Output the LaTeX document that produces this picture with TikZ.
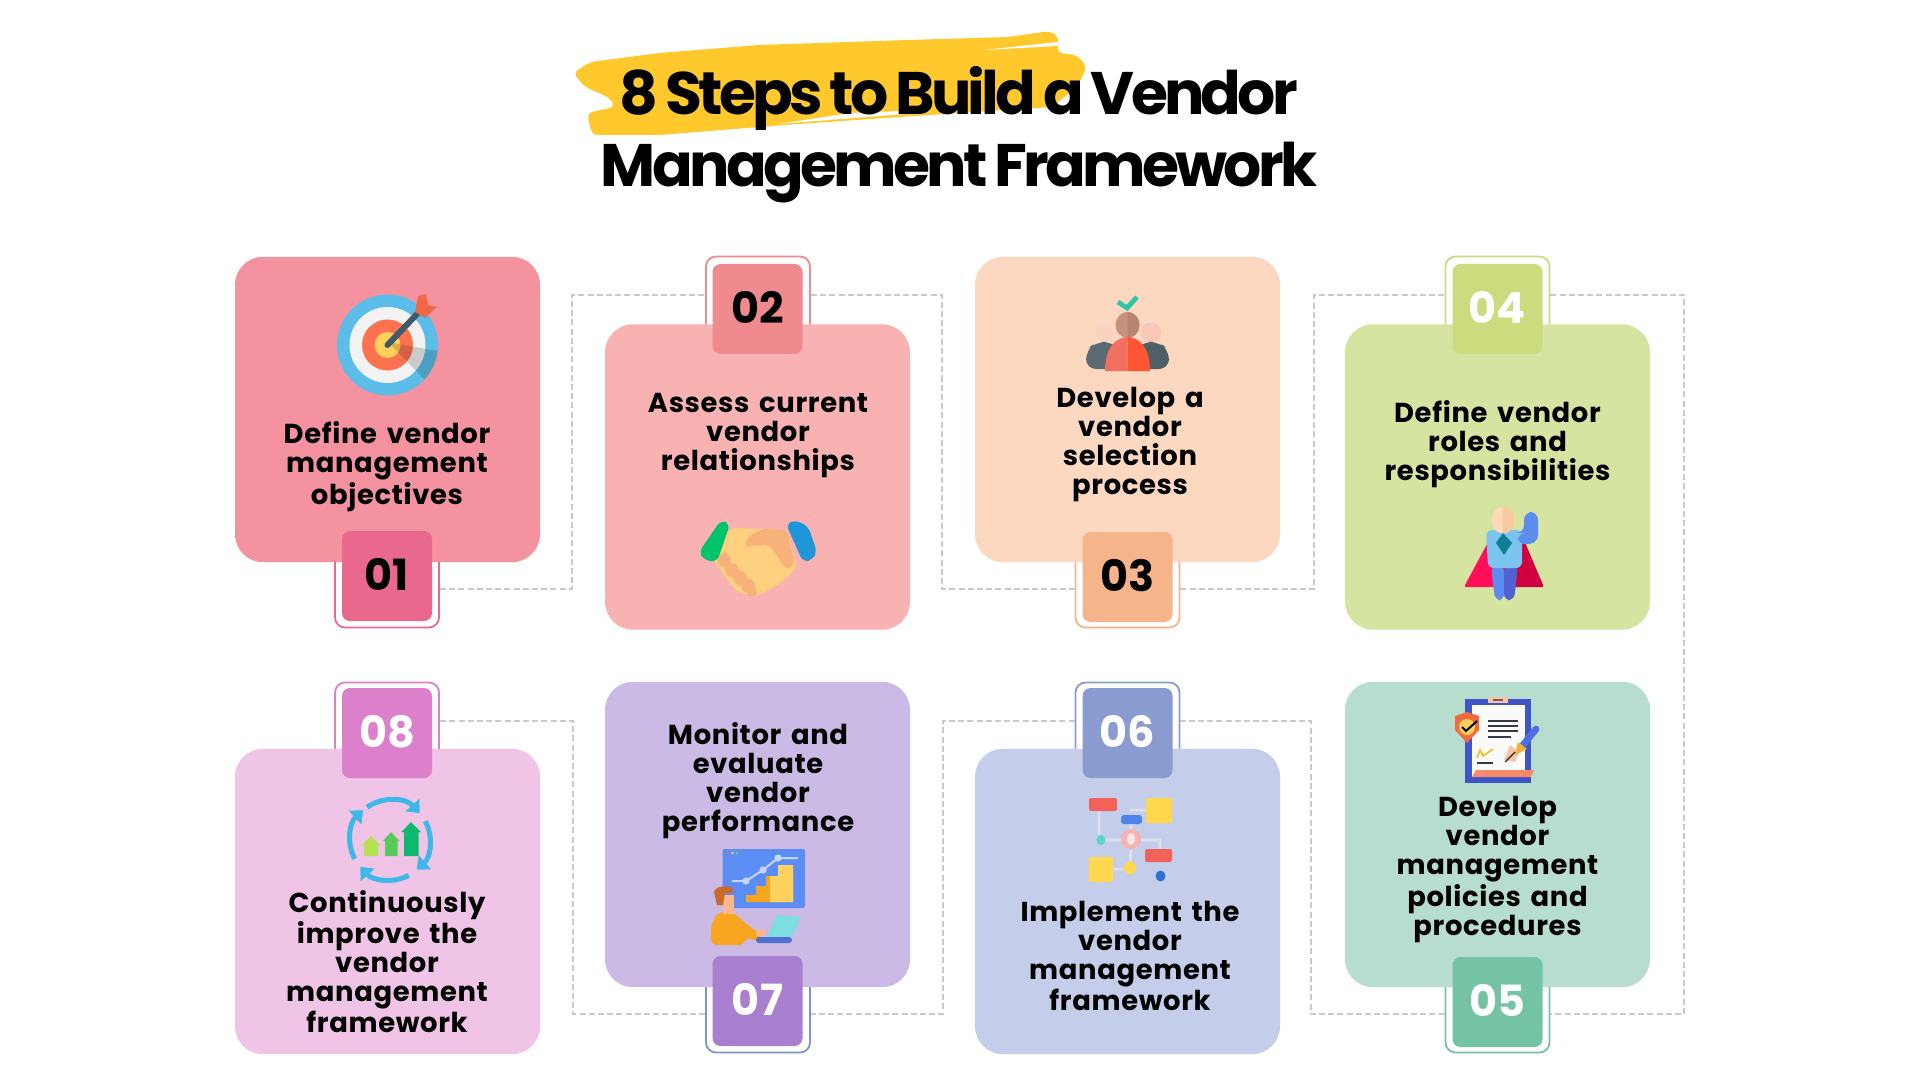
\documentclass[tikz,border=0pt]{standalone}
\usepackage{fontspec}
\setmainfont{Poppins}
\newfontfamily\titlefont{Poppins}[LetterSpace=-6.2,WordSpace=0.75]
\newfontfamily\stepfont{Poppins}[LetterSpace=2.4,WordSpace=1.5]
\usetikzlibrary{calc,arrows.meta}
\definecolor{cardA}{HTML}{F4939F}\definecolor{badgeA}{HTML}{E8688E}
\definecolor{cardB}{HTML}{F8B2B2}\definecolor{badgeB}{HTML}{EF8A8E}
\definecolor{cardC}{HTML}{FDD8C0}\definecolor{badgeC}{HTML}{F6B48A}
\definecolor{cardD}{HTML}{D6E4A2}\definecolor{badgeD}{HTML}{CBDC7E}
\definecolor{cardE}{HTML}{B6DDCE}\definecolor{badgeE}{HTML}{74C3A5}
\definecolor{cardF}{HTML}{C4CDE9}\definecolor{badgeF}{HTML}{8A9CCF}
\definecolor{cardG}{HTML}{CABAE5}\definecolor{badgeG}{HTML}{A97FCF}
\definecolor{cardH}{HTML}{F0C4E6}\definecolor{badgeH}{HTML}{DC80CB}
\definecolor{frameG}{HTML}{7F95CB}
\definecolor{brush}{HTML}{FFC82C}
\definecolor{dashgrey}{HTML}{C9C9C9}
\tikzset{
  hex/.code={\definecolor{tmphex}{HTML}{#1}\pgfkeysalso{/tikz/color=tmphex}},
  card/.style={fill=#1,draw=none,rounded corners=14pt,minimum width=152.5pt,minimum height=152.7pt,inner sep=0pt},
  frame/.style={fill=white,draw=#1,line width=0.9pt,rounded corners=5pt,minimum width=52pt,minimum height=38.5pt,inner sep=0pt},
  badge/.style={fill=#1,rounded corners=4pt,minimum width=45pt,minimum height=45pt,inner sep=0pt,text depth=1.2pt,font=\bfseries\fontsize{21.5}{24}\selectfont},
  steptext/.style={align=center,inner sep=0pt,text=black,font=\stepfont\bfseries\fontsize{13.7}{14.5}\selectfont},
  link/.style={draw=dashgrey,line width=0.8pt,dash pattern=on 3pt off 1.6pt},
  titletext/.style={inner sep=0pt,text=black,align=center,font=\titlefont\bfseries\fontsize{30}{36}\selectfont},
  cyc/.style={hex=3DB8E8,line width=2.5pt,-{Triangle[width=9pt,length=5.5pt]}}
}
\begin{document}
\begin{tikzpicture}[x=0.5pt,y=-0.5pt]
\useasboundingbox (0,0) rectangle (1920,1080);
\fill[white] (0,0) rectangle (1920,1080);
% brush
\fill[brush,rounded corners=3pt] (573,73)--(590,62)--(660,53)--(759,45)--(908,40)--(1008,37)--(1050,31)--(1059,37)--(1057,53)--(1077,55)--(1087,67)--(1077,87)--(1052,107)--(958,113)--(784,125)--(660,135)--(592,135)--(587,113)--(615,107)--(610,98)--(585,87)--cycle;
\fill[white] (983,50)--(1058,42)--(1058,46)--cycle;
\fill[white] (778,124)--(918,113)--(900,111)--(850,113)--cycle;
\node[titletext] (title) at (959,134.5) {8 Steps to Build a Vendor\\Management Framework};
% frames
\node[frame=badgeA] (f1) at (387,589) {};
\node[frame=badgeB] (f2) at (758,295) {};
\node[frame=badgeC] (f3) at (1127.5,589) {};
\node[frame=badgeD] (f4) at (1497.5,295) {};
\node[frame=badgeE] (f5) at (1497.5,1014) {};
\node[frame=badgeF] (f6) at (1127.5,721) {};
\node[frame=frameG] (f7) at (758,1014) {};
\node[frame=badgeH] (f8) at (387,721) {};
% connector corners
\coordinate (b1) at (572,295);
\coordinate (b2) at (942,589);
\coordinate (b3) at (1314,295);
\coordinate (b4) at (1684,1014);
\coordinate (b5) at (1311,721);
\coordinate (b6) at (943,1014);
\coordinate (b7) at (573,721);
\draw[link] (f1.east) -| (b1) -- (f2.west);
\draw[link] (f2.east) -| (b2) -- (f3.west);
\draw[link] (f3.east) -| (b3) -- (f4.west);
\draw[link] (f4.east) -| (b4) -- (f5.east);
\draw[link] (f5.west) -| (b5) -- (f6.east);
\draw[link] (f6.west) -| (b6) -- (f7.east);
\draw[link] (f7.west) -| (b7) -- (f8.east);
% cards
\node[card=cardA] (c1) at (387.5,409.5) {};
\node[card=cardB] (c2) at (757.5,477) {};
\node[card=cardC] (c3) at (1127.5,409.5) {};
\node[card=cardD] (c4) at (1497.5,477) {};
\node[card=cardE] (c5) at (1497.5,834.5) {};
\node[card=cardF] (c6) at (1127.5,901.5) {};
\node[card=cardG] (c7) at (757.5,834.5) {};
\node[card=cardH] (c8) at (387.5,901.5) {};
% badges
\node[badge=badgeA,text=black] (n1) at (387,576) {01};
\node[badge=badgeB,text=black] (n2) at (757.5,309) {02};
\node[badge=badgeC,text=black] (n3) at (1127.5,577) {03};
\node[badge=badgeD,text=white] (n4) at (1497.5,309) {04};
\node[badge=badgeE,text=white] (n5) at (1497.5,1002) {05};
\node[badge=badgeF,text=white] (n6) at (1127.5,733) {06};
\node[badge=badgeG,text=white] (n7) at (757.5,1001) {07};
\node[badge=badgeH,text=white] (n8) at (387,733) {08};
% texts
\node[steptext] (t1) at (387,466.5) {Define vendor\\management\\objectives};
\node[steptext] (t2) at (758,436) {Assess current\\vendor\\relationships};
\node[steptext] (t3) at (1130,445) {Develop a\\vendor\\selection\\process};
\node[steptext] (t4) at (1497.5,444) {Define vendor\\roles and\\responsibilities};
\node[steptext] (t5) at (1497.5,869.5) {Develop\\vendor\\management\\policies and\\procedures};
\node[steptext] (t6) at (1130,956) {Implement the\\vendor\\management\\framework};
\node[steptext] (t7) at (758,781) {Monitor and\\evaluate\\vendor\\performance};
\node[steptext] (t8) at (387,961.5) {Continuously\\improve the\\vendor\\management\\framework};
% icon 1: target
\fill[hex=5BBDE8] (387.5,345) circle (50.5);
\fill[white!95!black] (387.5,345) circle (38);
\fill[hex=FF7250] (387.5,345) circle (25.5);
\fill[hex=FFD05B] (387.5,345) circle (13);
\begin{scope}
\clip (387.5,345) circle (50.5);
\fill[black,opacity=.16] (388,342)--(442,352)--(430,385)--cycle;
\end{scope}
\draw[hex=3F5A6B,line width=3pt,line cap=round] (387.5,345)--(420,311);
\fill[hex=F0684A] (415,312)--(418,296)--(426,294)--(428,305)--(437,307)--(425,318)--cycle;
% icon 2: handshake
\fill[hex=FFD07F,rounded corners=3pt] (730,528)--(787,530)--(797,568)--(778,585)--(755,597)--(735,590)--(713,560)--cycle;
\fill[hex=F7B27A,rounded corners=3pt] (744,548)--(748,536)--(765,528)--(787,530)--(795,565)--(786,570)--(770,545)--(755,545)--cycle;
\fill[hex=F7B27A] (724,560) circle (7) (732,570) circle (7) (740,578) circle (7) (748,586) circle (7) (752,592) circle (5);
\fill[hex=00C46A,rounded corners=3pt] (721,520)--(730,524)--(717,562)--(704,560)--(699,552)--cycle;
\fill[hex=1E96D8,rounded corners=3pt] (795,520)--(786,524)--(803,562)--(812,560)--(817,552)--(808,526)--cycle;
% icon 3: people
\draw[hex=2EC4A5,line width=2.4pt] (1118,302)--(1127,308)--(1137,297);
\fill[hex=F9C8B8] (1151,333) circle (10.5);
\fill[hex=FAD2C0] (1104,333) circle (9);
\fill[hex=5A6A70,rounded corners=5pt] (1086,369)--(1086,350)--(1096,342)--(1112,342)--(1122,350)--(1122,369)--cycle;
\fill[hex=4F5F66,rounded corners=5pt] (1133,369)--(1133,350)--(1143,342)--(1159,342)--(1169,350)--(1169,369)--cycle;
\fill[hex=C9927E] (1127.5,325) ellipse (12 and 13);
\fill[hex=B98572] (1127.5,312) arc[start angle=-90,end angle=90,x radius=12,y radius=13]--cycle;
\fill[hex=F2705F] (1127.5,337) .. controls (1112,338) and (1105,352) .. (1105,371) -- (1127.7,371) -- cycle;
\fill[hex=FF5533] (1127.5,337) .. controls (1143,338) and (1150,352) .. (1150,371) -- (1127.5,371) -- cycle;
% icon 4: hero
\fill[hex=FF0F5B] (1493,533)--(1465,585)--(1465,587)--(1505,587)--(1505,533)--cycle;
\fill[hex=D0003F] (1505,533)--(1521,533)--(1543,585)--(1543,587)--(1505,587)--cycle;
\fill[hex=5B8DEF,rounded corners=3pt] (1491,566)--(1504,566)--(1504,600)--(1495,600)--cycle;
\fill[hex=4F62D0,rounded corners=3pt] (1504,566)--(1518,566)--(1514,600)--(1504,600)--cycle;
\fill[hex=7CC4F0,rounded corners=3pt] (1486,530)--(1522,530)--(1522,568)--(1488,568)--cycle;
\fill[hex=5B8DEF,rounded corners=4pt] (1518,533)--(1524,533)--(1524,512)--(1538,512)--(1538,543)--(1518,545)--cycle;
\fill[hex=FDD9B5] (1503,520) ellipse (11.5 and 13.5);
\fill[hex=F7C9A0] (1503,506.5) arc[start angle=-90,end angle=90,x radius=11.5,y radius=13.5]--cycle;
\fill[hex=0F7F95] (1503,533)--(1496,543)--(1504,555)--(1512,543)--cycle;
% icon 5: clipboard
\fill[hex=3F55C7] (1465,699) rectangle (1531,783);
\fill[white!98!black] (1472,705) rectangle (1525,777);
\fill[hex=F9C5A8] (1488,697) rectangle (1508,703);
\draw[hex=7A5A60,line width=.7pt] (1493,700)--(1503,700);
\fill[hex=F06A3A] (1455,716)--(1467,712)--(1479,716)--(1479,730)--(1467,743)--(1455,730)--cycle;
\fill[hex=FFD05B] (1467,727) circle (8);
\draw[black,line width=1pt] (1462,727)--(1466,731)--(1477,721);
\draw[hex=333A45,line width=1pt] (1488,721)--(1518,721) (1488,726)--(1518,726) (1488,731)--(1518,731) (1488,737)--(1511,737) (1477,763)--(1493,763);
\draw[hex=F2C230,line width=.9pt] (1477,758)--(1480,750)--(1483,756)--(1493,749);
\fill[hex=F88A6A] (1472,777)--(1476,770)--(1534,770)--(1531,777)--cycle;
\fill[hex=F9C5A8] (1504,760)--(1510,745)--(1519,752)--(1515,762)--cycle;
\draw[hex=4D6FE0,line width=3.4pt,line cap=round] (1536,729)--(1523,745);
\fill[hex=F2B233] (1518,742)--(1527,749)--(1515,755)--cycle;
\draw[hex=333A45,line width=.7pt] (1515,752)--(1505,762);
% icon 6: flow chart
\draw[hex=DDE0EE,line width=1.4pt] (1099,811)--(1099,835) (1106,840)--(1121,840) (1141,840)--(1160,840)--(1160,849) (1131,824)--(1131,830) (1131,850)--(1130,862) (1113,869)--(1124,869) (1130,810)--(1146,810);
\fill[hex=F2625A,rounded corners=1pt] (1089,798) rectangle (1117,811);
\fill[hex=FFD84D,rounded corners=1pt] (1146,798) rectangle (1172,823);
\fill[hex=4D85E8,rounded corners=1.5pt] (1121,815) rectangle (1142,824);
\fill[hex=5CD5CF] (1101,840) ellipse (4.5 and 5);
\fill[hex=F9B2B2] (1131,839) ellipse (10 and 10);
\fill[hex=FFE7E7] (1131,839) ellipse (4 and 6);
\fill[hex=F2625A,rounded corners=1pt] (1145,849) rectangle (1172,862);
\fill[hex=FFD84D,rounded corners=1pt] (1089,857) rectangle (1113,882);
\fill[hex=FFD84D] (1130,868) ellipse (6 and 6.5);
\fill[hex=2F6FD0] (1160.5,876) ellipse (5 and 5.5);
% icon 7: monitoring
\fill[hex=5B8DF5,rounded corners=1pt] (722.6,849) rectangle (805,908);
\fill[hex=FF6B5B] (728,853) circle (1.3);
\fill[hex=FFD05B] (732.5,853) circle (1.3);
\fill[hex=6FD08C] (737,853) circle (1.3);
\fill[hex=F8A521] (746,902)--(746,895)--(756,895)--(756,886)--(766,886)--(766,876)--(778,876)--(778,865)--(793,865)--(793,902)--cycle;
\fill[hex=FFD25E] (770,902)--(770,876)--(778,876)--(778,865)--(793,865)--(793,902)--cycle;
\draw[hex=C5D6FA,line width=1pt] (732,881)--(746,881)--(763,870)--(778,858)--(798,858);
\fill[hex=C5D6FA] (746,881) circle (3.6) (763,870) circle (3.6) (778,858) circle (3.6);
\fill[hex=F8A521,rounded corners=3pt] (711,945)--(711,925)--(718,912)--(733,912)--(750,927)--(764,936)--(761,942)--(745,937)--(745,945)--cycle;
\fill[hex=FBB890] (723,895) rectangle (734,914);
\fill[hex=C76A2A] (714,892) .. controls (716,885) and (730,885) .. (733,889) -- (733,893) -- (725,893) -- (723,905) -- (717,905) -- cycle;
\fill[hex=7DDDE0] (777,915)--(801,917)--(792,937)--(767,937)--cycle;
\fill[hex=4F6FD0,rounded corners=1.5pt] (756,937) rectangle (792,943);
\fill[hex=FBB890] (761,933) ellipse (5 and 4);
% icon 8: cycle with bars
\fill[hex=B5E24F] (364,856)--(364,845)--(362,845)--(371,836)--(380,845)--(378,845)--(378,856)--cycle;
\fill[hex=5BC85A] (385,856)--(385,841)--(383,841)--(391,832)--(399.5,841)--(397.5,841)--(397.5,856)--cycle;
\fill[hex=0FB86F] (404,856)--(404,832)--(401.5,832)--(411,822)--(421,832)--(418.5,832)--(418.5,856)--cycle;
\draw[cyc] ($(390,840)+(-125:40)$) arc[start angle=-125,end angle=-42,radius=40];
\draw[cyc] ($(390,840)+(-28:40)$) arc[start angle=-28,end angle=48,radius=40];
\draw[cyc] ($(390,840)+(62:40)$) arc[start angle=62,end angle=138,radius=40];
\draw[cyc] ($(390,840)+(152:40)$) arc[start angle=152,end angle=228,radius=40];
\end{tikzpicture}
\end{document}
